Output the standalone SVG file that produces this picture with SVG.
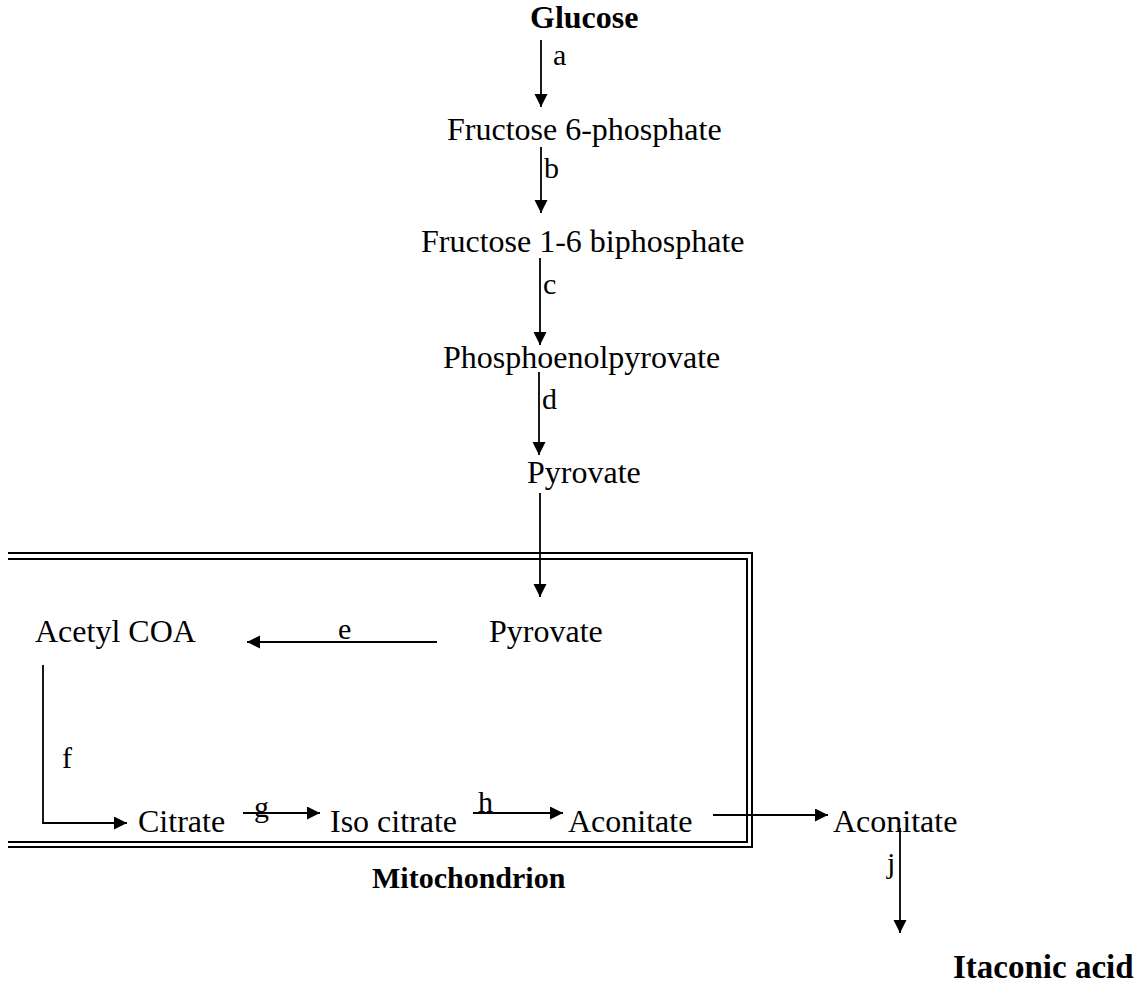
<svg xmlns="http://www.w3.org/2000/svg" width="1136" height="993" viewBox="0 0 1136 993">
<style>
text{font-family:"Liberation Serif","Times New Roman",serif;font-size:32px;fill:#000}
.b{font-weight:bold}
.lbl{font-size:30px}
.ln{stroke:#000;stroke-width:1.8;fill:none}
.box{stroke:#000;stroke-width:2;fill:none}
</style>
<defs>
<marker id="ah" markerUnits="userSpaceOnUse" markerWidth="14" markerHeight="14" refX="13" refY="6.5" orient="auto">
<path d="M0,0 L13,6.5 L0,13 z" fill="#000"/>
</marker>
</defs>
<rect width="1136" height="993" fill="#fff"/>
<g id="mitochondrion">
<path class="box" d="M8,553 H752 V847 H8"/>
<path class="box" d="M8,559 H747 V842 H8"/>
<text class="b" x="372" y="888" style="font-size:30px">Mitochondrion</text>
</g>
<g id="connectors">
<line class="ln" x1="541" y1="40" x2="541" y2="107" marker-end="url(#ah)"/>
<line class="ln" x1="541" y1="147" x2="541" y2="213" marker-end="url(#ah)"/>
<line class="ln" x1="540" y1="258" x2="540" y2="345" marker-end="url(#ah)"/>
<line class="ln" x1="539" y1="372" x2="539" y2="455" marker-end="url(#ah)"/>
<line class="ln" x1="540" y1="493" x2="540" y2="597" marker-end="url(#ah)"/>
<line class="ln" x1="437" y1="642" x2="247" y2="642" marker-end="url(#ah)"/>
<path class="ln" d="M43,665 V823 H127" marker-end="url(#ah)"/>
<line class="ln" x1="243" y1="813" x2="320" y2="813" marker-end="url(#ah)"/>
<line class="ln" x1="473" y1="813" x2="563" y2="813" marker-end="url(#ah)"/>
<line class="ln" x1="713" y1="815" x2="828" y2="815" marker-end="url(#ah)"/>
<line class="ln" x1="900" y1="828" x2="900" y2="933" marker-end="url(#ah)"/>
<text class="lbl" x="553" y="65">a</text>
<text class="lbl" x="544" y="178">b</text>
<text class="lbl" x="543" y="294">c</text>
<text class="lbl" x="542" y="409">d</text>
<text class="lbl" x="338" y="639">e</text>
<text class="lbl" x="62" y="768">f</text>
<text class="lbl" x="254" y="817">g</text>
<text class="lbl" x="478" y="812">h</text>
<text class="lbl" x="887" y="873">j</text>
</g>
<g id="glucose"><text class="b" x="530" y="28">Glucose</text></g>
<g id="f6p"><text x="447" y="140">Fructose 6-phosphate</text></g>
<g id="f16bp"><text x="421" y="252">Fructose 1-6 biphosphate</text></g>
<g id="pep"><text x="443" y="368">Phosphoenolpyrovate</text></g>
<g id="pyrovate1"><text x="527" y="483">Pyrovate</text></g>
<g id="pyrovate2"><text x="489" y="642">Pyrovate</text></g>
<g id="acetylcoa"><text x="35" y="642">Acetyl COA</text></g>
<g id="citrate"><text x="138" y="832">Citrate</text></g>
<g id="isocitrate"><text x="330" y="832">Iso citrate</text></g>
<g id="aconitate1"><text x="568" y="832">Aconitate</text></g>
<g id="aconitate2"><text x="833" y="832">Aconitate</text></g>
<g id="itaconic"><text class="b" x="953" y="978" style="font-size:33px">Itaconic acid</text></g>
</svg>
